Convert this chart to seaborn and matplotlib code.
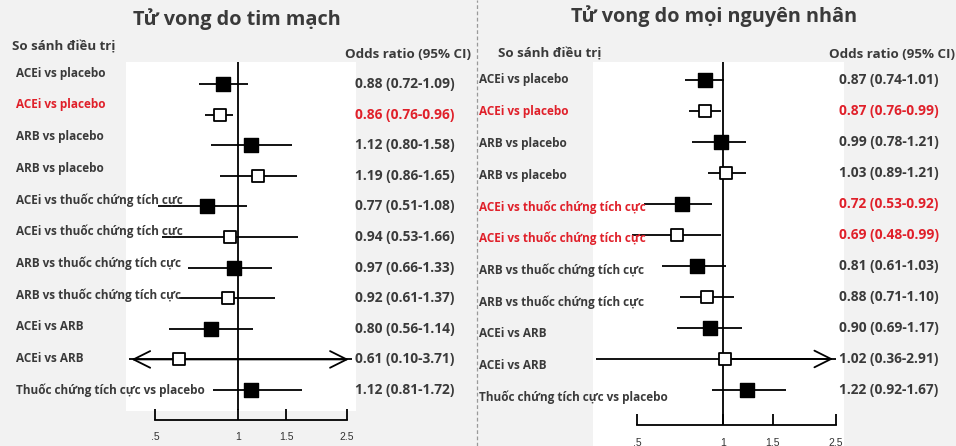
import numpy as np
import pandas as pd
import matplotlib
matplotlib.use("Agg")
import matplotlib.pyplot as plt
import matplotlib.transforms as mtransforms
import seaborn as sns
from matplotlib.patches import Rectangle
from matplotlib.ticker import FixedLocator, FixedFormatter, NullLocator

# Du lieu
row_labels = ["ACEi vs placebo", "ACEi vs placebo", "ARB vs placebo", "ARB vs placebo",
              "ACEi vs thuốc chứng tích cực", "ACEi vs thuốc chứng tích cực",
              "ARB vs thuốc chứng tích cực", "ARB vs thuốc chứng tích cực",
              "ACEi vs ARB", "ACEi vs ARB", "Thuốc chứng tích cực vs placebo"]
filled = [True, False, True, False, True, False, True, False, True, False, True]

cv_or = [0.88, 0.86, 1.12, 1.19, 0.77, 0.94, 0.97, 0.92, 0.80, 0.61, 1.12]
cv_lo = [0.72, 0.76, 0.80, 0.86, 0.51, 0.53, 0.66, 0.61, 0.56, 0.10, 0.81]
cv_hi = [1.09, 0.96, 1.58, 1.65, 1.08, 1.66, 1.33, 1.37, 1.14, 3.71, 1.72]
cv_red = [False, True, False, False, False, False, False, False, False, False, False]

all_or = [0.87, 0.87, 0.99, 1.03, 0.72, 0.69, 0.81, 0.88, 0.90, 1.02, 1.22]
all_lo = [0.74, 0.76, 0.78, 0.89, 0.53, 0.48, 0.61, 0.71, 0.69, 0.36, 0.92]
all_hi = [1.01, 0.99, 1.21, 1.21, 0.92, 0.99, 1.03, 1.10, 1.17, 2.91, 1.67]
all_red = [False, True, False, False, True, True, False, False, False, False, False]

tick_vals = [0.5, 1, 1.5, 2.5]
tick_text = [".5", "1", "1.5", "2.5"]

titles = ["Tử vong do tim mạch", "Tử vong do mọi nguyên nhân"]

W, H = 956, 446
DARK = "#3a3a3a"
RED = "#e0202a"

sns.set_style("white")
plt.rcParams["font.family"] = ["Open Sans", "DejaVu Sans"]

fig = plt.figure(figsize=(W / 100, H / 100), dpi=100)
fig.patch.set_facecolor("#f2f2f2")


def fx(px):
    return px / W


def fy(py):
    return 1 - py / H


def panel(box, white, xlim, ylim, ors, los, his, reds, clip, vl_bottom,
          lab_x, lab_y0, lab_step, or_x):
    # nen trang
    fig.patches.append(Rectangle((fx(white[0]), fy(white[3])), fx(white[1] - white[0]),
                                 (white[3] - white[2]) / H, transform=fig.transFigure,
                                 facecolor="white", edgecolor="none", zorder=-5))
    ax = fig.add_axes([fx(box[0]), fy(box[3]), fx(box[1] - box[0]), (box[3] - box[2]) / H])
    ax.patch.set_visible(False)
    df = pd.DataFrame({"or": ors, "lo": los, "hi": his, "row": range(len(ors)), "filled": filled})
    ax.set_xscale("log")

    # khoang tin cay, cat o gioi han va ve mui ten
    lo_c = np.clip(df["lo"], clip[0], clip[1])
    hi_c = np.clip(df["hi"], clip[0], clip[1])
    ax.hlines(df["row"], lo_c, hi_c, color="black", lw=1.3, zorder=2)
    for _, r in df.iterrows():
        if r["lo"] < clip[0]:
            ax.annotate("", xy=(clip[0], r["row"]), xytext=(r["or"], r["row"]),
                        arrowprops=dict(arrowstyle="->", lw=1.3, color="black", mutation_scale=30))
        if r["hi"] > clip[1]:
            ax.annotate("", xy=(clip[1], r["row"]), xytext=(r["or"], r["row"]),
                        arrowprops=dict(arrowstyle="->", lw=1.3, color="black", mutation_scale=30))

    ax.vlines(1, ylim[1], vl_bottom, color="black", lw=1.3, zorder=1)
    sns.scatterplot(data=df[df["filled"]], x="or", y="row", marker="s", s=90,
                    color="black", edgecolor="black", linewidth=1, ax=ax, zorder=3)
    sns.scatterplot(data=df[~df["filled"]], x="or", y="row", marker="s", s=75,
                    color="white", edgecolor="black", linewidth=1.3, ax=ax, zorder=3)

    ax.set_xlim(*xlim)
    ax.set_ylim(*ylim)
    ax.set_xlabel("")
    ax.set_ylabel("")
    ax.set_yticks([])
    for s in ["left", "top", "right"]:
        ax.spines[s].set_visible(False)
    ax.spines["bottom"].set_bounds(0.5, 2.5)
    ax.spines["bottom"].set_linewidth(1.3)
    ax.spines["bottom"].set_color("black")
    ax.xaxis.set_major_locator(FixedLocator(tick_vals))
    ax.xaxis.set_major_formatter(FixedFormatter(tick_text))
    ax.xaxis.set_minor_locator(NullLocator())
    ax.tick_params(axis="x", direction="in", length=8, width=1.3, color="black",
                   labelsize=7.5, labelcolor="#333333", pad=9, bottom=True)
    for t in ax.get_xticklabels():
        t.set_family(["Liberation Sans", "DejaVu Sans"])

    trans = mtransforms.blended_transform_factory(fig.transFigure, ax.transData)
    for i, lab in enumerate(row_labels):
        c = RED if reds[i] else DARK
        fig.text(fx(lab_x), fy(lab_y0 + lab_step * i), lab, ha="left", va="center",
                 fontsize=8.5, fontweight="bold", color=c, zorder=5)
        ax.text(or_x, i, f"{ors[i]:.2f} ({los[i]:.2f}-{his[i]:.2f})", transform=trans,
                ha="left", va="center", fontsize=9.9, fontweight="bold", color=c,
                clip_on=False, zorder=5)
    return ax


panel((126, 356, 62, 420), (126, 356, 62, 411), (0.391, 2.70), (10.98, -0.72),
      cv_or, cv_lo, cv_hi, cv_red, (0.40, 2.6), 10.65, 16, 73, 31.7, fx(355))
panel((594, 844, 62, 425), (593, 844, 62, 446), (0.353, 2.67), (11.13, -0.58),
      all_or, all_lo, all_hi, all_red, (0.30, 2.5), 11.13, 479, 80, 31.7, fx(839))

# tieu de
fig.text(fx(237), fy(19), titles[0], ha="center", va="center", fontsize=14.3,
         fontweight="bold", color=DARK)
fig.text(fx(714), fy(16), titles[1], ha="center", va="center", fontsize=14.3,
         fontweight="bold", color=DARK)
fig.text(fx(12), fy(47), "So sánh điều trị", ha="left", va="center", fontsize=9.5,
         fontweight="bold", color=DARK)
fig.text(fx(471), fy(54), "Odds ratio (95% CI)", ha="right", va="center", fontsize=9.6,
         fontweight="bold", color=DARK)
fig.text(fx(498), fy(54), "So sánh điều trị", ha="left", va="center", fontsize=9.5,
         fontweight="bold", color=DARK)
fig.text(fx(955), fy(54), "Odds ratio (95% CI)", ha="right", va="center", fontsize=9.6,
         fontweight="bold", color=DARK)

# duong phan cach
fig.add_artist(plt.Line2D([fx(477), fx(477)], [0, 1], transform=fig.transFigure,
                          color="#9a9a9a", lw=0.9, ls=(0, (3, 2))))

fig.savefig("out.png", dpi=100, facecolor=fig.get_facecolor())
